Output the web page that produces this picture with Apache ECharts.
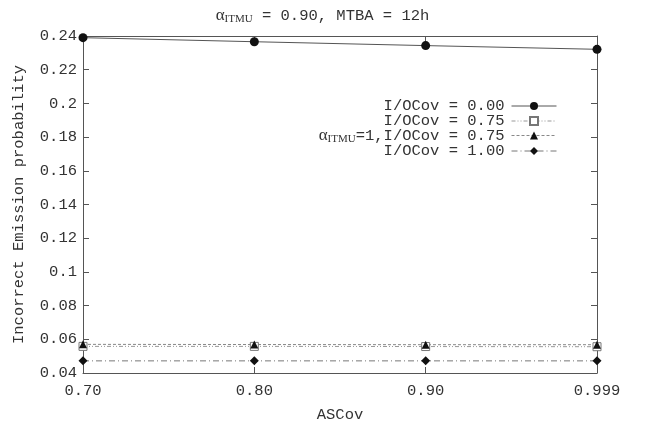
<!DOCTYPE html>
<html>
<head>
<meta charset="utf-8">
<script src="https://cdn.jsdelivr.net/npm/echarts@6/dist/echarts.min.js"></script>
<style>html,body{margin:0;padding:0;background:#fff}#c{width:645px;height:428px}</style>
</head>
<body>
<div id="c"></div>
<script>
var xCategories = ['0.70', '0.80', '0.90', '0.999'];
var seriesNames = ['I/OCov = 0.00', 'I/OCov = 0.75', 'alphaITMU=1,I/OCov = 0.75', 'I/OCov = 1.00'];
var cov000 = [0.2390, 0.2366, 0.2343, 0.2321];
var cov075 = [0.0558, 0.0558, 0.0557, 0.0556];
var alpha1cov075 = [0.0570, 0.0569, 0.0568, 0.0568];
var cov100 = [0.0472, 0.0472, 0.0472, 0.0472];
var yTickLabels = ['0.04','0.06','0.08','0.1','0.12','0.14','0.16','0.18','0.2','0.22','0.24'];

var FONT = 'Liberation Mono';
var FS = 15.5;
var TXT = '#333';
var chart = echarts.init(document.getElementById('c'));

var richStyles = {
  a: {fontFamily: 'Liberation Serif', fontSize: 17, color: TXT, fontWeight: 'normal'},
  s: {fontFamily: 'Liberation Serif', fontSize: 11, color: TXT, fontWeight: 'normal', padding: [8, 0, 0, 0]},
  t: {fontFamily: FONT, fontSize: FS, color: TXT, fontWeight: 'normal'}
};

function legendFor(idx, top) {
  return {
    data: [seriesNames[idx]],
    right: 88, top: top,
    orient: 'horizontal',
    align: 'right',
    itemWidth: 45, itemHeight: 10,
    itemGap: 0,
    padding: 0,
    selectedMode: false,
    lineStyle: {width: 1},
    textStyle: {
      fontFamily: FONT, fontSize: FS, color: TXT, padding: [0, 2, 0, 0],
      rich: richStyles
    },
    formatter: function (n) {
      if (n.indexOf('alphaITMU') === 0) return '{a|α}{s|ITMU}{t|' + n.substring(9) + '}';
      return n;
    }
  };
}

chart.setOption({
  animation: false,
  backgroundColor: '#fff',
  title: {
    text: '{a|α}{s|ITMU}{t| = 0.90, MTBA = 12h}',
    left: 'center', top: 1,
    textStyle: {fontWeight: 'normal', rich: richStyles}
  },
  legend: [legendFor(0, 98), legendFor(1, 113), legendFor(2, 127), legendFor(3, 143)],
  grid: {left: 83, right: 48, top: 36, bottom: 54},
  xAxis: [{
    type: 'category', data: xCategories, boundaryGap: false,
    name: 'ASCov', nameLocation: 'middle', nameGap: 34,
    nameTextStyle: {fontFamily: FONT, fontSize: FS, color: TXT},
    axisLine: {lineStyle: {color: '#555', width: 1}},
    axisTick: {inside: true, length: 6, lineStyle: {color: '#555'}},
    axisLabel: {fontFamily: FONT, fontSize: FS, color: TXT, margin: 10},
    splitLine: {show: false}
  }, {
    type: 'category', data: xCategories, boundaryGap: false, position: 'top',
    axisLine: {lineStyle: {color: '#555', width: 1}},
    axisTick: {inside: true, length: 6, lineStyle: {color: '#555'}},
    axisLabel: {show: false}, splitLine: {show: false}
  }],
  yAxis: [{
    type: 'value', min: 0.04, max: 0.24, interval: 0.02,
    name: 'Incorrect Emission probability', nameLocation: 'middle', nameGap: 56,
    nameTextStyle: {fontFamily: FONT, fontSize: FS, color: TXT},
    axisLine: {show: true, lineStyle: {color: '#555', width: 1}},
    axisTick: {show: true, inside: true, length: 6, lineStyle: {color: '#555'}},
    axisLabel: {fontFamily: FONT, fontSize: FS, color: TXT, margin: 6,
      formatter: function (v) { var i = Math.round((v - 0.04) / 0.02); return yTickLabels[i]; }},
    splitLine: {show: false}
  }, {
    type: 'value', min: 0.04, max: 0.24, interval: 0.02, position: 'right',
    axisLine: {show: true, lineStyle: {color: '#555', width: 1}},
    axisTick: {show: true, inside: true, length: 6, lineStyle: {color: '#555'}},
    axisLabel: {show: false}, splitLine: {show: false}
  }],
  series: [{
    name: seriesNames[0], type: 'line', data: cov000,
    symbol: 'circle', symbolSize: 9,
    itemStyle: {color: '#111'},
    lineStyle: {color: '#555', width: 1, type: 'solid'}
  }, {
    name: seriesNames[1], type: 'line', data: cov075,
    symbol: 'rect', symbolSize: 8,
    itemStyle: {color: '#fff', borderColor: '#777', borderWidth: 1},
    lineStyle: {color: '#999', width: 1, type: [4, 2, 1, 2, 1, 2]}
  }, {
    name: seriesNames[2], type: 'line', data: alpha1cov075,
    symbol: 'triangle', symbolSize: 8,
    itemStyle: {color: '#111'},
    lineStyle: {color: '#888', width: 1, type: [3, 2]}
  }, {
    name: seriesNames[3], type: 'line', data: cov100,
    symbol: 'diamond', symbolSize: 9,
    itemStyle: {color: '#111'},
    lineStyle: {color: '#777', width: 1, type: [6, 3, 1, 3]}
  }]
});
</script>
</body>
</html>
